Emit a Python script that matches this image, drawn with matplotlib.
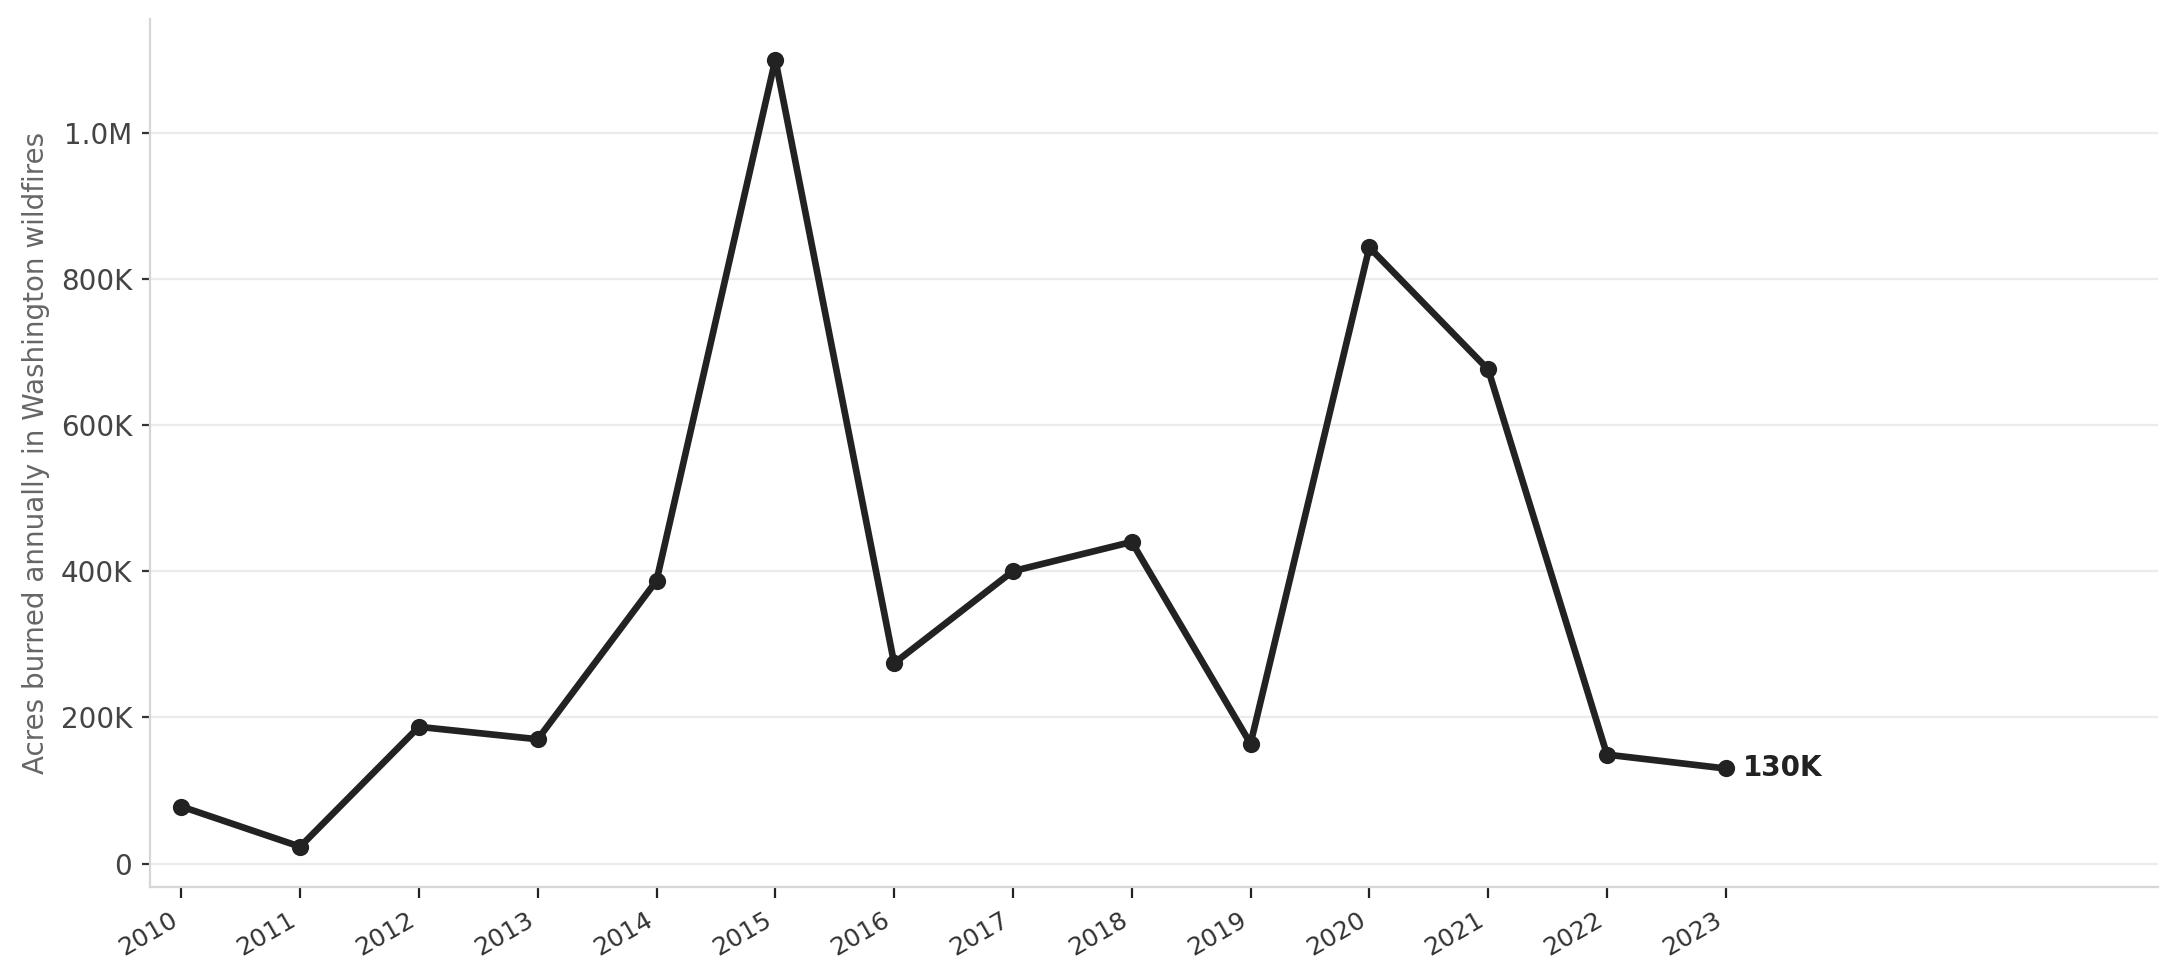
import matplotlib.pyplot as plt
from matplotlib.ticker import FuncFormatter

# Washington wildfire acres burned per year
years = [2010, 2011, 2012, 2013, 2014, 2015, 2016, 2017, 2018, 2019, 2020, 2021, 2022, 2023]
acres = [78000, 23000, 187000, 170000, 387000, 1100000, 274000, 400000, 440000,
         164000, 843000, 676000, 149000, 130000]
last_label = "130K"


def fmt(v, pos):
    if v == 0:
        return "0"
    if abs(v) >= 1e6:
        return f"{v/1e6:.1f}M"
    return f"{v/1e3:.0f}K"


fig = plt.figure(figsize=(10.9, 4.9), dpi=200)
ax = fig.add_axes([0.069, 0.095, 0.921, 0.886])

ax.plot(years, acres, 'o-', color='#222222', lw=2.4, ms=5.2)
ax.annotate(last_label, (years[-1], acres[-1]), xytext=(6, 0), textcoords='offset points',
            va='center', ha='left', fontsize=10, fontweight='bold', color='#222222')

ax.set_xlim(2009.74, 2026.64)
ax.set_ylim(-32000, 1156000)
ax.set_yticks([0, 200000, 400000, 600000, 800000, 1000000])
ax.yaxis.set_major_formatter(FuncFormatter(fmt))
ax.set_xticks(years)
ax.set_xticklabels([str(y) for y in years], rotation=30, ha='right')

ax.grid(axis='y', color='#ebebeb', lw=0.8)
ax.set_axisbelow(True)
for s in ['top', 'right']:
    ax.spines[s].set_visible(False)
for s in ['left', 'bottom']:
    ax.spines[s].set_color('#d6d6d6')
    ax.spines[s].set_linewidth(0.8)

ax.tick_params(axis='y', labelsize=10, labelcolor='#444444', color='#333333', length=3, width=0.8)
ax.tick_params(axis='x', labelsize=9, labelcolor='#333333', color='#222222', length=4, width=0.8)
ax.set_ylabel("Acres burned annually in Washington wildfires", fontsize=10, color='#666666')

fig.savefig("out.png", dpi=200)
